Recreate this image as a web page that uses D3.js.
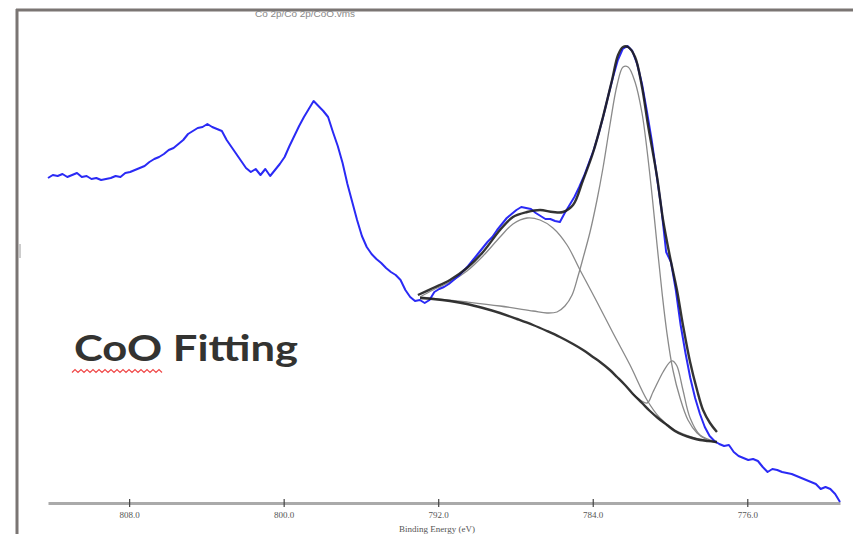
<!DOCTYPE html>
<html>
<head>
<meta charset="utf-8">
<script src="https://cdn.jsdelivr.net/npm/d3@7"></script>
<style>
  body { margin: 0; background: #fff; }
  svg { display: block; }
</style>
</head>
<body>
<svg id="chart" width="853" height="534"></svg>
<script>
const width = 853, height = 534;

// Co 2p scan, energy grid 812.2 -> 771.2 eV, step 0.25 eV
const scanStart = 812.2, scanStep = 0.25;
const scanCounts = [
  3250,3280,3270,3290,3260,3280,3300,3260,3270,3240,
  3250,3230,3240,3250,3270,3260,3300,3310,3330,3350,
  3370,3410,3440,3460,3490,3530,3550,3590,3630,3690,
  3720,3750,3760,3790,3760,3740,3720,3630,3560,3490,
  3420,3350,3310,3340,3280,3340,3270,3330,3390,3460,
  3570,3670,3770,3860,3940,4020,3970,3920,3860,3710,
  3570,3400,3190,3010,2830,2670,2560,2490,2440,2400,
  2350,2310,2280,2230,2130,2060,2020,2030,2000,2030,
  2110,2140,2160,2190,2230,2270,2320,2370,2430,2490,
  2550,2610,2660,2730,2790,2850,2890,2930,2960,2950,
  2940,2900,2870,2840,2840,2820,2810,2900,2980,3060,
  3160,3270,3400,3530,3690,3870,4070,4260,4430,4540,
  4570,4520,4390,4190,3920,3630,3290,2950,2510,2410,
  2130,1780,1500,1250,1050,890,760,670,620,590,
  570,580,510,470,450,430,440,420,360,310,
  340,330,310,300,290,270,250,230,210,190,
  140,160,140,90,10
];

// fit: [binding energy, counts]
const envelope = [
  [793.05,2080],[792.27,2150],[791.39,2230],[790.51,2350],[789.68,2510],[788.80,2730],
  [788.13,2860],[787.40,2910],[786.73,2930],[786.06,2910],[785.54,2910],[785.02,2980],
  [784.50,3230],[783.99,3500],[783.47,3860],[783.00,4230],[782.69,4480],[782.43,4560],
  [782.17,4560],[781.81,4460],[781.45,4160],[781.14,3780],[780.67,3260],[780.36,2830],
  [780.00,2460],[779.64,2130],[779.33,1780],[778.96,1410],[778.60,1130],[778.29,930],
  [777.93,800],[777.57,710]
];
const background = [
  [792.94,2050],[792.27,2040],[791.39,2020],[790.51,1990],[789.68,1950],[788.80,1900],
  [787.92,1840],[787.09,1780],[786.37,1720],[785.70,1660],[785.02,1590],[784.50,1530],
  [783.99,1460],[783.62,1410],[783.11,1330],[782.74,1260],[782.33,1180],[781.92,1090],
  [781.45,1000],[781.04,920],[780.63,850],[780.16,780],[779.75,720],[779.33,680],
  [778.86,650],[778.45,630],[778.03,620],[777.57,610]
];
const compSatellite = [
  [792.94,2060],[792.27,2130],[791.39,2210],[790.51,2320],[789.68,2470],[788.80,2660],
  [788.13,2790],[787.40,2850],[786.73,2830],[786.06,2750],[785.33,2580],[784.66,2330],
  [783.78,2010],[782.95,1700],[782.07,1380],[781.19,1030],[780.52,850],[779.75,730],
  [778.86,660],[777.57,610]
];
const compMain = [
  [792.94,2060],[790.51,2010],[788.80,1970],[787.09,1920],[786.37,1900],[785.85,1910],
  [785.44,1970],[785.07,2080],[784.76,2270],[784.50,2450],[784.14,2710],[783.78,3030],
  [783.47,3350],[783.11,3780],[782.74,4180],[782.43,4360],[782.17,4360],[781.81,4210],
  [781.45,3900],[781.19,3530],[780.93,3080],[780.67,2580],[780.41,2100],[780.16,1700],
  [779.85,1330],[779.48,1050],[779.07,830],[778.60,700],[778.08,630],[777.57,600]
];
const compShoulder = [
  [781.92,1090],[781.19,1000],[780.88,1110],[780.36,1310],[780.00,1410],[779.85,1420],
  [779.64,1370],[779.33,1130],[778.96,850],[778.45,680],[777.57,610]
];

const tickValues = [808, 800, 792, 784, 776];
const xTitle = "Binding Energy (eV)";
const fileTitle = "Co 2p/Co 2p/CoO.vms";
const label = "CoO Fitting";

const svg = d3.select("#chart");

const x = d3.scaleLinear().domain([812.2, 771.2]).range([48, 840]);
const y = d3.scaleLinear().domain([0, 4580]).range([503, 45]);

// frame
svg.append("line").attr("x1", 16).attr("x2", width).attr("y1", 10).attr("y2", 10)
  .attr("stroke", "#7a7573").attr("stroke-width", 3);
svg.append("line").attr("x1", 17).attr("x2", 17).attr("y1", 9).attr("y2", height)
  .attr("stroke", "#7a7573").attr("stroke-width", 3);
svg.append("line").attr("x1", 20).attr("x2", 20).attr("y1", 244).attr("y2", 258)
  .attr("stroke", "#ccc").attr("stroke-width", 2);

svg.append("text").attr("x", 255).attr("y", 17)
  .attr("font-family", "Liberation Sans").attr("font-size", 9)
  .attr("textLength", 100).attr("lengthAdjust", "spacingAndGlyphs")
  .attr("fill", "#888").text(fileTitle);

// axis
const axis = svg.append("g").attr("transform", "translate(0,503)")
  .call(d3.axisBottom(x).tickValues(tickValues).tickFormat(d3.format(".1f"))
    .tickSizeInner(4).tickSizeOuter(0));
axis.select(".domain").attr("stroke", "#aaa").attr("stroke-width", 3);
axis.selectAll(".tick line").attr("y1", -4).attr("y2", 4).attr("stroke", "#444").attr("stroke-width", 1.2);
axis.selectAll(".tick text").attr("y", 9).attr("fill", "#555")
  .attr("font-family", "Liberation Serif").attr("font-size", 9);

svg.append("text").attr("x", 437).attr("y", 532).attr("text-anchor", "middle")
  .attr("font-family", "Liberation Serif").attr("font-size", 9).attr("fill", "#555")
  .text(xTitle);

const line = d3.line().x(d => x(d[0])).y(d => y(d[1]));
const smooth = d3.line().x(d => x(d[0])).y(d => y(d[1])).curve(d3.curveCatmullRom.alpha(0.5));

// components (thin grey)
[compSatellite, compMain, compShoulder].forEach(c => {
  svg.append("path").datum(c).attr("d", smooth)
    .attr("fill", "none").attr("stroke", "#8a8a8a").attr("stroke-width", 1.3);
});

// spectrum
const scan = scanCounts.map((v, i) => [scanStart - i * scanStep, v]);
svg.append("path").datum(scan).attr("d", line)
  .attr("fill", "none").attr("stroke", "#2a2af5").attr("stroke-width", 2)
  .attr("stroke-linejoin", "round");

// background and envelope (thick black)
[background, envelope].forEach(c => {
  svg.append("path").datum(c).attr("d", smooth)
    .attr("fill", "none").attr("stroke", "#1e1e1e").attr("stroke-width", 2.4)
    .attr("opacity", 0.9);
});

// label
svg.append("text").attr("x", 74).attr("y", 361)
  .attr("font-family", "Lato").attr("font-weight", "bold").attr("font-size", 36)
  .attr("textLength", 224).attr("lengthAdjust", "spacingAndGlyphs")
  .attr("fill", "#333331").text(label);

const squiggle = d3.range(72, 164, 3).map((px, i) => [px, 371 + (i % 2 ? -1.5 : 1.5)]);
svg.append("path").attr("d", d3.line()(squiggle))
  .attr("fill", "none").attr("stroke", "#f04848").attr("stroke-width", 1.2);
</script>
</body>
</html>
